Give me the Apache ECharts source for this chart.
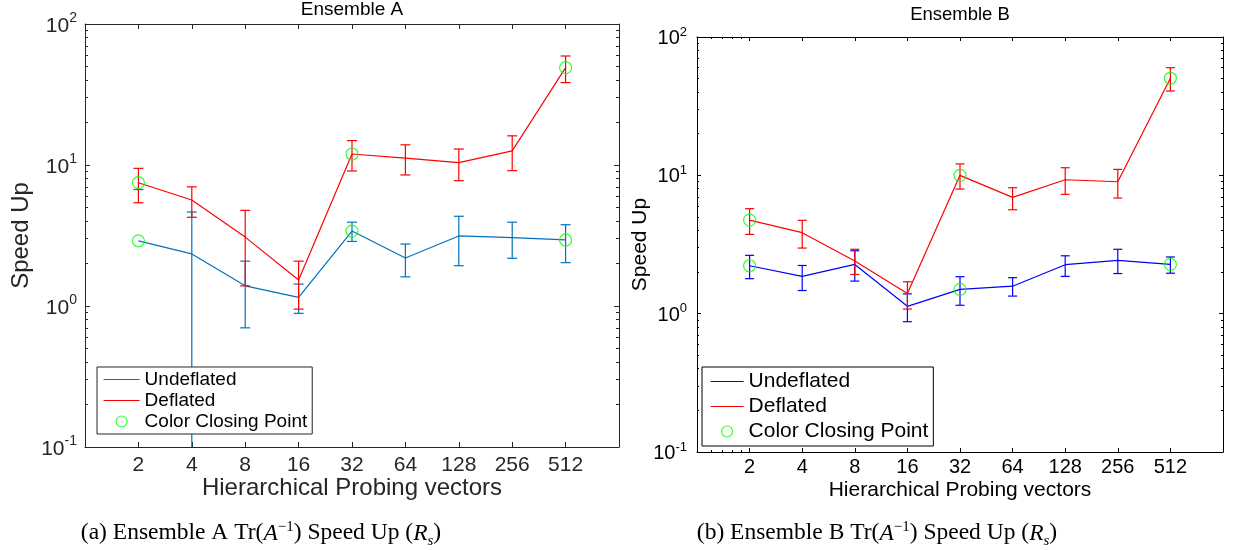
<!DOCTYPE html>
<html><head><meta charset="utf-8">
<script src="https://cdn.jsdelivr.net/npm/echarts@6/dist/echarts.min.js"></script>
<style>html,body{margin:0;padding:0;background:#fff}#c{width:1233px;height:550px}</style>
</head><body><div id="c"></div>
<script>
// ---------- data ----------
const probes = [2, 4, 8, 16, 32, 64, 128, 256, 512];
const yTicks = [0.1, 1, 10, 100];
const closeIdx = [0, 4, 8];

// Ensemble A
const aUndef   = [2.90, 2.34, 1.39, 1.15, 3.40, 2.19, 3.14, 3.05, 2.94];
const aUndefLo = [-0.9, 0.04, 0.70, 0.887, 2.87, 1.61, 1.93, 2.18, 2.03];
const aUndefHi = [6.70, 4.64, 2.08, 1.43, 3.93, 2.75, 4.33, 3.93, 3.77];
const aDef     = [7.49, 5.65, 3.08, 1.53, 11.97, 11.2, 10.4, 12.6, 49.0];
const aDefLo   = [5.40, 4.26, 1.39, 0.95, 9.07, 8.50, 7.74, 9.12, 38.4];
const aDefHi   = [9.47, 7.00, 4.77, 2.08, 14.9, 13.9, 12.98, 16.1, 59.3];

// Ensemble B
const bUndef   = [2.22, 1.86, 2.27, 1.13, 1.50, 1.58, 2.26, 2.43, 2.27];
const bUndefLo = [1.79, 1.47, 1.72, 0.875, 1.15, 1.34, 1.86, 1.95, 1.96];
const bUndefHi = [2.64, 2.23, 2.85, 1.39, 1.85, 1.82, 2.62, 2.92, 2.57];
const bDef     = [4.75, 3.85, 2.40, 1.40, 10.0, 6.93, 9.29, 8.99, 50.3];
const bDefLo   = [3.74, 2.98, 1.92, 1.08, 7.96, 5.64, 7.29, 6.85, 40.7];
const bDefHi   = [5.74, 4.73, 2.92, 1.70, 12.1, 8.13, 11.35, 11.04, 60.0];

const xMinorB = [1.2, 1.4, 1.6, 1.8];

// ---------- helpers ----------
const FONT = 'Liberation Sans, Arial, Helvetica, sans-serif';
const SERIF = 'Liberation Serif, Times New Roman, serif';
const yMinor = [];
[0.1, 1, 10].forEach(d => { for (let k = 2; k <= 9; k++) yMinor.push(+(k * d).toPrecision(3)); });

function supLabel(v) { return '{b|10}{s|' + Math.round(Math.log10(v)) + '}'; }

function yAxesFor(gi, color, fs, sfs, sup, majLen, minLen, nameFs, nameGap, margin) {
  const base = { type: 'log', logBase: 10, min: 0.1, max: 100, gridIndex: gi, splitLine: { show: false } };
  const tick = (vals, len) => ({ show: true, inside: true, length: len, lineStyle: { color: color, width: 1 }, customValues: vals });
  return [
    Object.assign({}, base, {
      position: 'left',
      axisLine: { show: true, lineStyle: { color: color, width: 1 } },
      axisTick: tick(yTicks, majLen),
      axisLabel: { show: true, customValues: yTicks, margin: margin, formatter: supLabel,
        rich: { b: { fontSize: fs, color: color, fontFamily: FONT, verticalAlign: 'bottom' },
                s: { fontSize: sfs, color: color, fontFamily: FONT, verticalAlign: 'bottom', padding: [0, 0, sup, 0] } } },
      name: 'Speed Up', nameLocation: 'middle', nameGap: nameGap, nameMoveOverlap: false,
      nameTextStyle: { fontSize: nameFs, color: color, fontFamily: FONT }
    }),
    Object.assign({}, base, { position: 'left', axisLine: { show: false }, axisTick: tick(yMinor, minLen), axisLabel: { show: false } }),
    Object.assign({}, base, { position: 'right', axisLine: { show: true, lineStyle: { color: color, width: 1 } }, axisTick: tick(yTicks, majLen), axisLabel: { show: false } }),
    Object.assign({}, base, { position: 'right', axisLine: { show: false }, axisTick: tick(yMinor, minLen), axisLabel: { show: false } })
  ];
}

function xAxesFor(gi, color, fs, majLen, nameFs, nameGap, margin, minor) {
  const base = { type: 'log', logBase: 2, min: 1, max: 1024, gridIndex: gi, splitLine: { show: false } };
  const tick = (vals, len) => ({ show: true, inside: true, length: len, lineStyle: { color: color, width: 1 }, customValues: vals });
  const arr = [
    Object.assign({}, base, {
      position: 'bottom',
      axisLine: { show: true, lineStyle: { color: color, width: 1 } },
      axisTick: tick(probes, majLen),
      axisLabel: { show: true, customValues: probes, margin: margin, fontSize: fs, color: color, fontFamily: FONT,
                   formatter: v => String(Math.round(v)) },
      name: 'Hierarchical Probing vectors', nameLocation: 'middle', nameGap: nameGap, nameMoveOverlap: false,
      nameTextStyle: { fontSize: nameFs, color: color, fontFamily: FONT, verticalAlign: 'top' }
    }),
    Object.assign({}, base, { position: 'top', axisLine: { show: true, lineStyle: { color: color, width: 1 } }, axisTick: tick(probes, majLen), axisLabel: { show: false } })
  ];
  if (minor) {
    arr.push(Object.assign({}, base, { position: 'bottom', axisLine: { show: false }, axisTick: tick(minor, 2), axisLabel: { show: false } }));
    arr.push(Object.assign({}, base, { position: 'top', axisLine: { show: false }, axisTick: tick(minor, 2), axisLabel: { show: false } }));
  }
  return arr;
}

function errBar(capHalf) {
  return function (params, api) {
    const x = api.value(0), lo = api.value(1), hi = api.value(2);
    const style = { stroke: api.visual('color'), lineWidth: 1.2, fill: null };
    const top = api.coord([x, hi]);
    const children = [];
    if (lo > 0) {
      const bot = api.coord([x, lo]);
      children.push({ type: 'line', shape: { x1: bot[0], y1: bot[1], x2: top[0], y2: top[1] }, style: style });
      children.push({ type: 'line', shape: { x1: bot[0] - capHalf, y1: bot[1], x2: bot[0] + capHalf, y2: bot[1] }, style: style });
    }
    children.push({ type: 'line', shape: { x1: top[0] - capHalf, y1: top[1], x2: top[0] + capHalf, y2: top[1] }, style: style });
    return { type: 'group', children: children };
  };
}

function seriesFor(xi, yi, undef, undefLo, undefHi, def, defLo, defHi, blue, capHalf) {
  const pts = arr => probes.map((p, i) => [p, arr[i]]);
  const bars = (lo, hi) => probes.map((p, i) => [p, lo[i], hi[i]]);
  const circles = [];
  closeIdx.forEach(i => { circles.push([probes[i], def[i]]); circles.push([probes[i], undef[i]]); });
  return [
    { type: 'line', name: 'Undeflated', xAxisIndex: xi, yAxisIndex: yi, data: pts(undef), symbol: 'none',
      color: blue, lineStyle: { color: blue, width: 1.2 }, animation: false, z: 2 },
    { type: 'custom', xAxisIndex: xi, yAxisIndex: yi, data: bars(undefLo, undefHi), encode: { x: 0, y: 2 },
      itemStyle: { color: blue }, renderItem: errBar(capHalf), clip: true, animation: false, z: 2 },
    { type: 'line', name: 'Deflated', xAxisIndex: xi, yAxisIndex: yi, data: pts(def), symbol: 'none',
      color: '#ff0000', lineStyle: { color: '#ff0000', width: 1.2 }, animation: false, z: 3 },
    { type: 'custom', xAxisIndex: xi, yAxisIndex: yi, data: bars(defLo, defHi), encode: { x: 0, y: 2 },
      itemStyle: { color: '#ff0000' }, renderItem: errBar(capHalf), clip: true, animation: false, z: 3 },
    { type: 'scatter', name: 'Color Closing Point', xAxisIndex: xi, yAxisIndex: yi, data: circles, symbol: 'circle', symbolSize: 12,
      itemStyle: { color: 'rgba(0,0,0,0)', borderColor: '#00ff00', borderWidth: 1.2 }, animation: false, z: 4 }
  ];
}

function legendFor(left, top, blue, color, fs, itemWidth, gap, pad) {
  const noSym = { color: 'rgba(0,0,0,0)', borderWidth: 0, opacity: 0 };
  return {
    left: left, top: top, orient: 'vertical', itemWidth: itemWidth, itemHeight: 11, itemGap: gap, padding: pad,
    borderColor: color, borderWidth: 1, backgroundColor: '#ffffff', selectedMode: false,
    textStyle: { fontSize: fs, color: '#000', fontFamily: FONT },
    data: [
      { name: 'Undeflated', itemStyle: noSym, lineStyle: { color: blue, width: 1.2, opacity: 1 } },
      { name: 'Deflated', itemStyle: noSym, lineStyle: { color: '#ff0000', width: 1.2, opacity: 1 } },
      { name: 'Color Closing Point', icon: 'circle', itemStyle: { color: 'rgba(0,0,0,0)', borderColor: '#00ff00', borderWidth: 1.2 } }
    ]
  };
}

const AX_A = '#262626', AX_B = '#000000';
const BLUE_A = '#0072bd', BLUE_B = '#0000ff';
const capRich = {
  i: { fontSize: 23.5, fontStyle: 'italic', fontFamily: SERIF, color: '#000', verticalAlign: 'bottom' },
  p: { fontSize: 15, fontFamily: SERIF, color: '#000', verticalAlign: 'bottom', padding: [0, 0, 10, 0] },
  d: { fontSize: 15, fontStyle: 'italic', fontFamily: SERIF, color: '#000', verticalAlign: 'bottom', padding: [0, 0, -4, 0] }
};

const option = {
  backgroundColor: '#ffffff',
  animation: false,
  title: [
    { text: 'Ensemble A', left: 352, top: 0, textAlign: 'center', padding: 0,
      textStyle: { fontSize: 19, fontWeight: 'normal', color: '#000', fontFamily: FONT } },
    { text: 'Ensemble B', left: 960, top: 5, textAlign: 'center', padding: 0,
      textStyle: { fontSize: 18.5, fontWeight: 'normal', color: '#000', fontFamily: FONT } },
    { text: '(a) Ensemble A Tr({i|A}{p|\u22121}) Speed Up ({i|R}{d|s})', left: 261, top: 520, textAlign: 'center', padding: 0,
      textStyle: { fontSize: 23.5, fontWeight: 'normal', color: '#000', fontFamily: SERIF, rich: capRich } },
    { text: '(b) Ensemble B Tr({i|A}{p|\u22121}) Speed Up ({i|R}{d|s})', left: 877, top: 520, textAlign: 'center', padding: 0,
      textStyle: { fontSize: 23.5, fontWeight: 'normal', color: '#000', fontFamily: SERIF, rich: capRich } }
  ],
  grid: [
    { left: 85, top: 24, width: 534, height: 423, containLabel: false },
    { left: 697, top: 37, width: 526, height: 415, containLabel: false }
  ],
  xAxis: [].concat(
    xAxesFor(0, AX_A, 21, 5, 24, 29, 8, null),
    xAxesFor(1, AX_B, 20, 4, 21, 28, 5, xMinorB)
  ),
  yAxis: [].concat(
    yAxesFor(0, AX_A, 21, 14, 11, 5, 3, 24, 52, 8),
    yAxesFor(1, AX_B, 20, 13, 10, 4, 2, 21, 46, 10)
  ),
  legend: [
    legendFor(97, 367, BLUE_A, AX_A, 19, 36, 2, [3, 5, 3, 6]),
    legendFor(702, 367, BLUE_B, AX_B, 21, 33, 4, [4, 5, 4, 8])
  ],
  series: [].concat(
    seriesFor(0, 0, aUndef, aUndefLo, aUndefHi, aDef, aDefLo, aDefHi, BLUE_A, 5),
    seriesFor(2, 4, bUndef, bUndefLo, bUndefHi, bDef, bDefLo, bDefHi, BLUE_B, 4.5)
  )
};

const chart = echarts.init(document.getElementById('c'), null, { renderer: 'canvas' });
chart.setOption(option);
</script>
</body></html>
